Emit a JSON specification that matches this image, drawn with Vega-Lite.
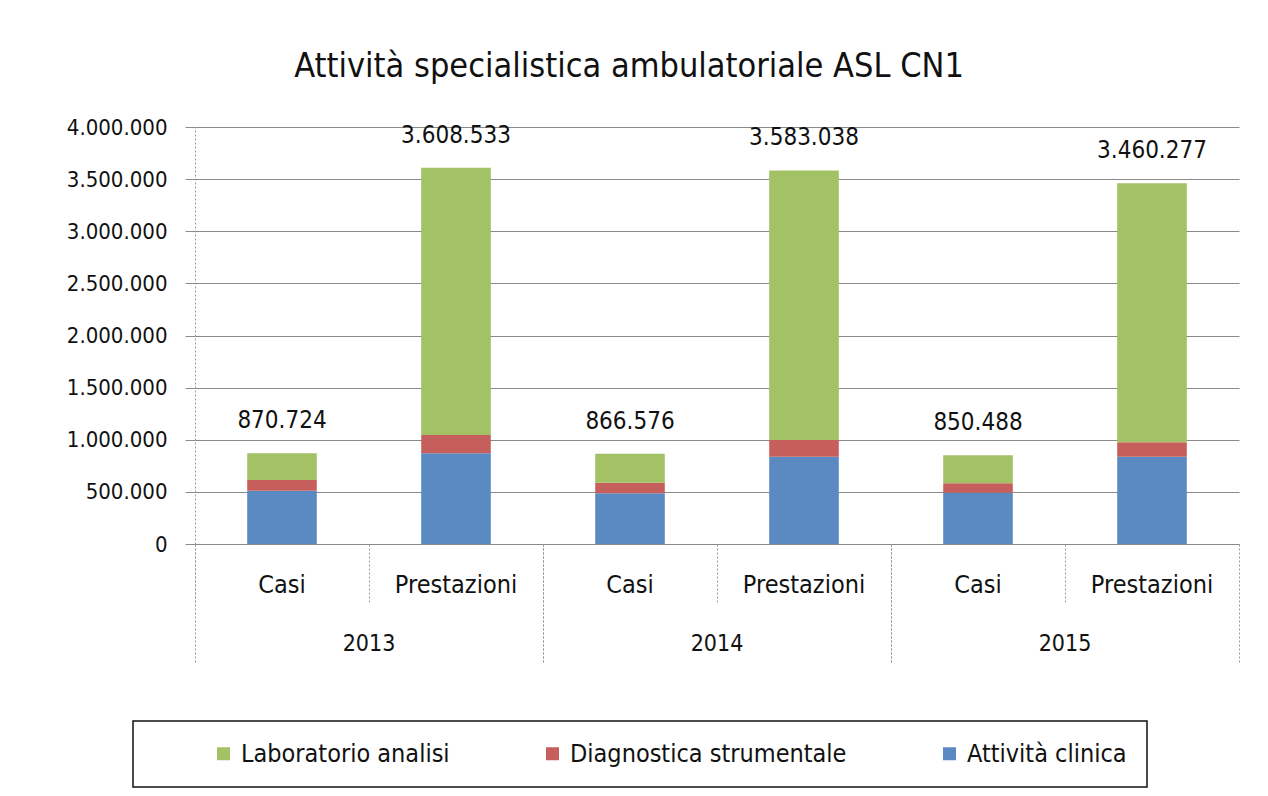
{
  "$schema": "https://vega.github.io/schema/vega-lite/v6.json",
  "autosize": {"type": "none"},
  "width": 1044,
  "height": 417,
  "padding": {"left": 195, "top": 127, "right": 29, "bottom": 252},
  "background": "white",
  "title": {
    "text": "Attività specialistica ambulatoriale ASL CN1",
    "anchor": "middle",
    "frame": "group",
    "dx": -88,
    "offset": 5,
    "baseline": "alphabetic",
    "font": "DejaVu Sans Condensed",
    "fontSize": 34,
    "fontWeight": "normal",
    "color": "#111111"
  },
  "data": {
    "values": [
      {"key": "2013|Casi", "anno": "2013", "tipo": "Casi", "serie": "Attività clinica", "valore": 510000},
      {"key": "2013|Casi", "anno": "2013", "tipo": "Casi", "serie": "Diagnostica strumentale", "valore": 104000},
      {"key": "2013|Casi", "anno": "2013", "tipo": "Casi", "serie": "Laboratorio analisi", "valore": 256724},
      {"key": "2013|Prestazioni", "anno": "2013", "tipo": "Prestazioni", "serie": "Attività clinica", "valore": 870000},
      {"key": "2013|Prestazioni", "anno": "2013", "tipo": "Prestazioni", "serie": "Diagnostica strumentale", "valore": 175000},
      {"key": "2013|Prestazioni", "anno": "2013", "tipo": "Prestazioni", "serie": "Laboratorio analisi", "valore": 2563533},
      {"key": "2014|Casi", "anno": "2014", "tipo": "Casi", "serie": "Attività clinica", "valore": 487000},
      {"key": "2014|Casi", "anno": "2014", "tipo": "Casi", "serie": "Diagnostica strumentale", "valore": 101000},
      {"key": "2014|Casi", "anno": "2014", "tipo": "Casi", "serie": "Laboratorio analisi", "valore": 278576},
      {"key": "2014|Prestazioni", "anno": "2014", "tipo": "Prestazioni", "serie": "Attività clinica", "valore": 838000},
      {"key": "2014|Prestazioni", "anno": "2014", "tipo": "Prestazioni", "serie": "Diagnostica strumentale", "valore": 160000},
      {"key": "2014|Prestazioni", "anno": "2014", "tipo": "Prestazioni", "serie": "Laboratorio analisi", "valore": 2585038},
      {"key": "2015|Casi", "anno": "2015", "tipo": "Casi", "serie": "Attività clinica", "valore": 492000},
      {"key": "2015|Casi", "anno": "2015", "tipo": "Casi", "serie": "Diagnostica strumentale", "valore": 90000},
      {"key": "2015|Casi", "anno": "2015", "tipo": "Casi", "serie": "Laboratorio analisi", "valore": 268488},
      {"key": "2015|Prestazioni", "anno": "2015", "tipo": "Prestazioni", "serie": "Attività clinica", "valore": 837000},
      {"key": "2015|Prestazioni", "anno": "2015", "tipo": "Prestazioni", "serie": "Diagnostica strumentale", "valore": 138000},
      {"key": "2015|Prestazioni", "anno": "2015", "tipo": "Prestazioni", "serie": "Laboratorio analisi", "valore": 2485277}
    ]
  },
  "layer": [
    {
      "layer": [
        {
          "mark": {"type": "bar", "width": {"band": 0.4}},
          "encoding": {
            "x": {
              "field": "key", "type": "nominal",
              "sort": ["2013|Casi", "2013|Prestazioni", "2014|Casi", "2014|Prestazioni", "2015|Casi", "2015|Prestazioni"],
              "scale": {"paddingInner": 0, "paddingOuter": 0},
              "axis": {
                "title": null,
                "labelExpr": "split(datum.value, '|')[1]",
                "labelAngle": 0,
                "bandPosition": 0,
                "labelAlign": "center",
                "labelBaseline": "alphabetic",
                "labelPadding": -12,
                "labelFont": "DejaVu Sans Condensed",
                "labelFontSize": 25,
                "labelColor": "#111111",
                "tickSize": 60,
                "tickDash": [2, 2],
                "tickColor": "#9a9a9a",
                "domainColor": "#8a8a8a",
                "grid": false
              }
            },
            "y": {
              "field": "valore", "type": "quantitative", "stack": "zero",
              "scale": {"domain": [0, 4000000], "nice": false},
              "axis": {
                "title": null,
                "values": [0, 500000, 1000000, 1500000, 2000000, 2500000, 3000000, 3500000, 4000000],
                "format": ",d",
                "labelFont": "DejaVu Sans Condensed",
                "labelFontSize": 22,
                "labelColor": "#111111",
                "labelPadding": 18,
                "tickSize": 10,
                "tickColor": "#8a8a8a",
                "domainColor": "#9a9a9a",
                "domainDash": [2, 2],
                "grid": true,
                "gridColor": "#8a8a8a",
                "gridWidth": 1
              }
            },
            "color": {
              "field": "serie", "type": "nominal",
              "scale": {
                "domain": ["Laboratorio analisi", "Diagnostica strumentale", "Attività clinica"],
                "range": ["#A3C165", "#C65F5C", "#5B8AC2"]
              },
              "legend": {
                "orient": "none",
                "legendX": -62,
                "legendY": 594,
                "direction": "horizontal",
                "columns": 3,
                "columnPadding": 90,
                "padding": 20,
                "strokeColor": "#111111",
                "fillColor": "white",
                "title": "\u00a0",
                "titleOrient": "left",
                "titlePadding": 58,
                "titleFontSize": 24,
                "titleFont": "DejaVu Sans Condensed",
                "symbolType": "square",
                "symbolSize": 169,
                "symbolStrokeWidth": 0,
                "labelFont": "DejaVu Sans Condensed",
                "labelFontSize": 25,
                "labelColor": "#111111",
                "labelOffset": 5,
                "labelLimit": 500
              }
            },
            "order": {"field": "serie", "type": "ordinal", "sort": "ascending"}
          }
        },
        {
          "transform": [
            {"aggregate": [{"op": "sum", "field": "valore", "as": "totale"}], "groupby": ["key"]}
          ],
          "mark": {"type": "text", "baseline": "alphabetic", "dy": -25, "font": "DejaVu Sans Condensed", "fontSize": 24, "color": "#111111"},
          "encoding": {
            "x": {
              "field": "key", "type": "nominal",
              "sort": ["2013|Casi", "2013|Prestazioni", "2014|Casi", "2014|Prestazioni", "2015|Casi", "2015|Prestazioni"],
              "scale": {"paddingInner": 0, "paddingOuter": 0}
            },
            "y": {"field": "totale", "type": "quantitative"},
            "text": {"field": "totale", "type": "quantitative", "format": ",d"}
          }
        }
      ]
    },
    {
      "mark": {"type": "bar", "opacity": 0},
      "encoding": {
        "x": {
          "field": "anno", "type": "nominal",
          "scale": {"paddingInner": 0, "paddingOuter": 0},
          "axis": {
            "title": null,
            "orient": "bottom",
            "bandPosition": 1,
            "labelAngle": 0,
            "labelAlign": "center",
            "labelBaseline": "alphabetic",
            "labelPadding": -14,
            "labelFont": "DejaVu Sans Condensed",
            "labelFontSize": 23,
            "labelColor": "#111111",
            "tickSize": 120,
            "tickDash": [2, 2],
            "tickColor": "#9a9a9a",
            "domain": false,
            "grid": false
          }
        }
      }
    },
    {
      "mark": {"type": "bar", "opacity": 0},
      "encoding": {
        "x": {
          "field": "anno", "type": "nominal",
          "scale": {"paddingInner": 0, "paddingOuter": 0},
          "axis": {
            "title": null,
            "orient": "bottom",
            "bandPosition": 0,
            "labels": false,
            "tickSize": 120,
            "tickDash": [2, 2],
            "tickColor": "#9a9a9a",
            "domain": false,
            "grid": false
          }
        }
      }
    }
  ],
  "resolve": {"scale": {"x": "independent"}, "axis": {"x": "independent"}},
  "config": {
    "locale": {"number": {"decimal": ",", "thousands": ".", "grouping": [3], "currency": ["", " €"]}},
    "view": {"stroke": null},
    "font": "DejaVu Sans Condensed",
    "legend": {"strokeWidth": 1.5}
  }
}
